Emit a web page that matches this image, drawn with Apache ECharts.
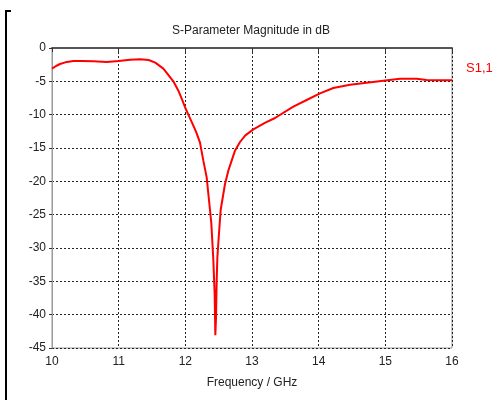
<!DOCTYPE html>
<html>
<head>
<meta charset="utf-8">
<script src="https://cdn.jsdelivr.net/npm/echarts@6/dist/echarts.min.js"></script>
<style>
  html, body { margin: 0; padding: 0; background: #fff; }
  #chart { width: 502px; height: 400px; }
</style>
</head>
<body>
<div id="chart"></div>
<script>
// frequency in GHz, S1,1 in dB
const freq = [10.00, 10.06, 10.12, 10.20, 10.32, 10.45, 10.62, 10.82, 11.00, 11.17,
  11.32, 11.45, 11.55, 11.67, 11.75, 11.82, 11.90, 11.95, 12.00, 12.05,
  12.10, 12.145, 12.17, 12.22, 12.27, 12.32, 12.37, 12.39, 12.42, 12.44,
  12.45, 12.46, 12.47, 12.48, 12.50, 12.53, 12.595, 12.645, 12.745, 12.82,
  12.90, 13.02, 13.20, 13.345, 13.62, 13.82, 14.02, 14.22, 14.47, 14.72,
  14.97, 15.22, 15.47, 15.62, 15.80, 16.00];
const s11 = [-3.1, -2.7, -2.4, -2.15, -1.95, -1.95, -2.0, -2.1, -1.95, -1.75,
  -1.7, -1.8, -2.2, -3.1, -4.1, -5.0, -6.5, -7.7, -9.0, -10.1,
  -11.2, -12.2, -12.8, -14.2, -16.9, -19.4, -24.3, -26.3, -31.8, -37.0,
  -43.1, -40.5, -35.0, -31.5, -28.5, -24.3, -20.4, -18.4, -15.4, -14.1,
  -13.1, -12.2, -11.2, -10.5, -8.8, -7.8, -6.8, -6.0, -5.5, -5.2,
  -4.9, -4.6, -4.6, -4.8, -4.85, -4.85];

const chart = echarts.init(document.getElementById("chart"));
const font = "Liberation Sans";

chart.setOption({
  animation: false,
  title: {
    text: "S-Parameter Magnitude in dB",
    left: "center",
    top: 20,
    textStyle: { fontFamily: font, fontSize: 12, fontWeight: "normal", color: "#222" },
  },
  legend: {
    data: [{ name: "S1,1", icon: "none" }],
    left: 456,
    top: 56,
    itemWidth: 0,
    textStyle: { fontFamily: font, fontSize: 13, color: "#ff0000" },
  },
  graphic: [
    {
      type: "polyline",
      shape: { points: [[11, 11], [6, 11], [6, 400]] },
      style: { stroke: "#000", lineWidth: 2, fill: null },
    },
  ],
  grid: { left: 52, right: 50, top: 48, bottom: 52, show: true, borderColor: "#999", borderWidth: 1 },
  xAxis: {
    type: "value",
    min: 10,
    max: 16,
    interval: 1,
    name: "Frequency / GHz",
    nameLocation: "middle",
    nameGap: 29,
    nameTextStyle: { fontFamily: font, fontSize: 12, color: "#222" },
    axisLine: { lineStyle: { color: "#555", width: 2 } },
    axisTick: { show: true, length: 4, lineStyle: { color: "#333" } },
    axisLabel: { fontFamily: font, fontSize: 12, color: "#222", margin: 8 },
    splitLine: { show: true, lineStyle: { color: "#222", type: [2, 2], width: 1 } },
  },
  yAxis: {
    type: "value",
    min: -45,
    max: 0,
    interval: 5,
    axisLine: { show: true, lineStyle: { color: "#999", width: 1 } },
    axisTick: { show: true, length: 3, lineStyle: { color: "#333" } },
    axisLabel: { fontFamily: font, fontSize: 12, color: "#222", margin: 6 },
    splitLine: { show: true, lineStyle: { color: "#222", type: [2, 2], width: 1 } },
  },
  series: [
    {
      name: "S1,1",
      type: "line",
      data: freq.map((f, i) => [f, s11[i]]),
      showSymbol: false,
      lineStyle: { color: "#ff0000", width: 2 },
      itemStyle: { color: "#ff0000" },
    },
  ],
});
</script>
</body>
</html>
